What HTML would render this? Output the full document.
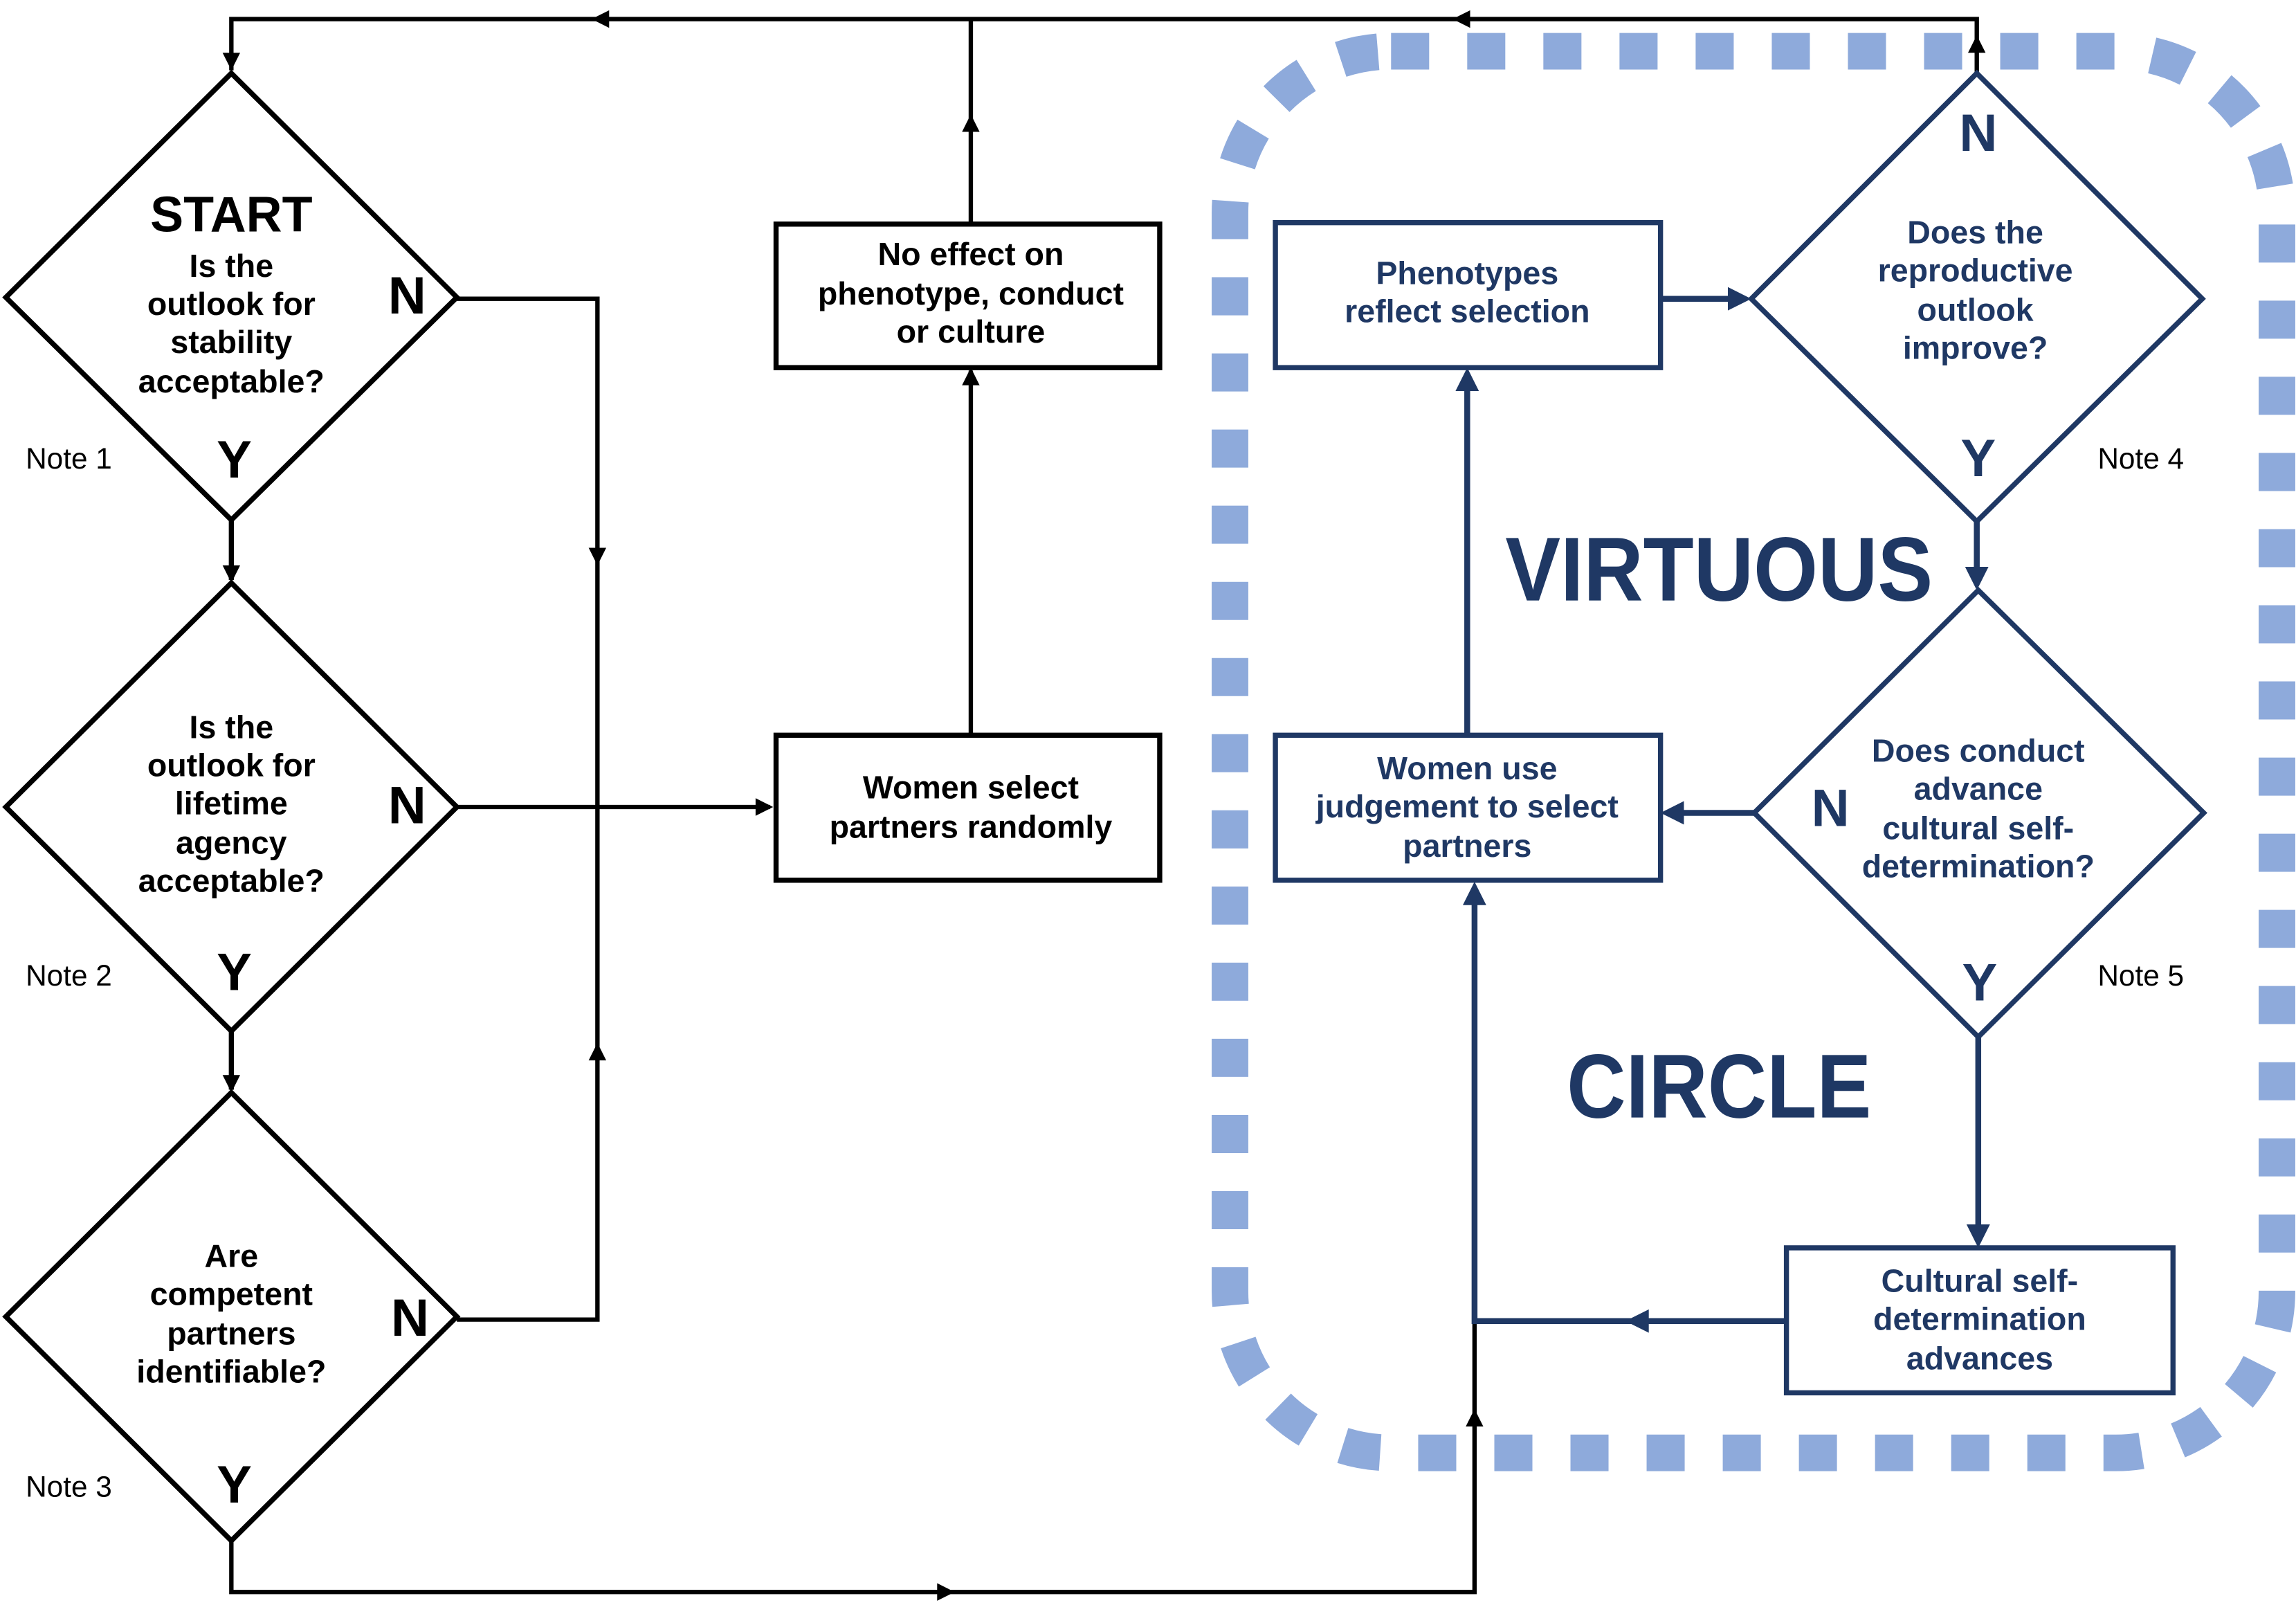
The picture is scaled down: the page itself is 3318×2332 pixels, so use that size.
<!DOCTYPE html>
<html><head><meta charset="utf-8"><style>
html,body{margin:0;padding:0;background:#fff}
svg{display:block}
text{font-family:"Liberation Sans",sans-serif;font-weight:bold}
</style></head><body>
<svg width="3318" height="2332" viewBox="0 0 1568 1102" xmlns="http://www.w3.org/2000/svg">
<rect x="840" y="35" width="715" height="957" rx="110" ry="110" fill="none" stroke="#8eaadb" stroke-width="25" stroke-dasharray="26 26"/>

<g stroke="#000" stroke-width="3" fill="none">
<polyline points="1350,50 1350,13 158,13 158,48"/>
<polyline points="312,204 408,204 408,901 312,901"/>
<line x1="312" y1="551" x2="526" y2="551"/>
<line x1="663" y1="502" x2="663" y2="253"/>
<line x1="663" y1="153" x2="663" y2="13"/>
<polyline points="158,1052 158,1087 1007,1087 1007,902"/>
</g>
<g fill="#000">
<path d="M158,48 l-6,-12 h12 z"/>
<path d="M404,13 l12,-6 v12 z"/>
<path d="M992,13 l12,-6 v12 z"/>
<path d="M1350,24 l-6,12 h12 z"/>
<path d="M408,386 l-6,-12 h12 z"/>
<path d="M408,712 l-6,12 h12 z"/>
<path d="M528,551 l-12,-6 v12 z"/>
<path d="M663,251 l-6,12 h12 z"/>
<path d="M663,78 l-6,12 h12 z"/>
<path d="M652,1087 l-12,-6 v12 z"/>
<path d="M1007,962 l-6,12 h12 z"/>
<path d="M158,398 l-6,-12 h12 z"/>
<path d="M158,746 l-6,-12 h12 z"/>
</g>

<g stroke="#000" stroke-width="3.5" fill="#fff">
<polygon points="158,50 312,203 158,355 4,203"/>
<polygon points="158,398 312,551 158,704 4,551"/>
<polygon points="158,746 312,899 158,1052 4,899"/>
<line x1="158" y1="355" x2="158" y2="396"/>
<line x1="158" y1="704" x2="158" y2="744"/>
<rect x="530" y="153" width="262" height="98"/>
<rect x="530" y="502" width="262" height="99"/>
</g>

<g fill="#000" text-anchor="middle" font-size="22">
<text x="158" y="158" font-size="34">START</text>
<text x="158" y="189">Is the</text>
<text x="158" y="215">outlook for</text>
<text x="158" y="241">stability</text>
<text x="158" y="268">acceptable?</text>
<text x="158" y="504">Is the</text>
<text x="158" y="530">outlook for</text>
<text x="158" y="556">lifetime</text>
<text x="158" y="583">agency</text>
<text x="158" y="609">acceptable?</text>
<text x="158" y="865">Are</text>
<text x="158" y="891">competent</text>
<text x="158" y="918">partners</text>
<text x="158" y="944">identifiable?</text>
<text x="663" y="181">No effect on</text>
<text x="663" y="208">phenotype, conduct</text>
<text x="663" y="234">or culture</text>
<text x="663" y="545">Women select</text>
<text x="663" y="572">partners randomly</text>
<g font-size="36">
<text x="278" y="214">N</text><text x="160" y="326">Y</text>
<text x="278" y="562">N</text><text x="160" y="676">Y</text>
<text x="280" y="912">N</text><text x="160" y="1026">Y</text>
</g>
<g font-size="20">
<text x="47" y="320" style="font-weight:normal">Note 1</text>
<text x="47" y="673" style="font-weight:normal">Note 2</text>
<text x="47" y="1022" style="font-weight:normal">Note 3</text>
<text x="1462" y="320" style="font-weight:normal">Note 4</text>
<text x="1462" y="673" style="font-weight:normal">Note 5</text>
</g>
</g>

<g stroke="#1f3864" stroke-width="4" fill="none">
<line x1="1134" y1="204" x2="1182" y2="204"/>
<line x1="1350" y1="356" x2="1350" y2="390"/>
<line x1="1198" y1="555" x2="1148" y2="555"/>
<line x1="1351" y1="708" x2="1351" y2="838"/>
<polyline points="1220,902 1007,902 1007,616"/>
<line x1="1002" y1="502" x2="1002" y2="266"/>
</g>
<g fill="#1f3864">
<path d="M1196,204 l-16,-8 v16 z"/>
<path d="M1350,403 l-8,-16 h16 z"/>
<path d="M1134,555 l16,-8 v16 z"/>
<path d="M1351,852 l-8,-16 h16 z"/>
<path d="M1110,902 l16,-8 v16 z"/>
<path d="M1007,602 l-8,16 h16 z"/>
<path d="M1002,251 l-8,16 h16 z"/>
</g>
<g stroke="#1f3864" stroke-width="3.5" fill="#fff">
<polygon points="1350,50 1504,204 1350,356 1196,204"/>
<polygon points="1351,403 1505,555 1351,708 1198,555"/>
<rect x="871" y="152" width="263" height="99"/>
<rect x="871" y="502" width="263" height="99"/>
<rect x="1220" y="852" width="264" height="99"/>
</g>
<g fill="#1f3864" text-anchor="middle" font-size="22">
<text x="1349" y="166">Does the</text>
<text x="1349" y="192">reproductive</text>
<text x="1349" y="219">outlook</text>
<text x="1349" y="245">improve?</text>
<text x="1351" y="520">Does conduct</text>
<text x="1351" y="546">advance</text>
<text x="1351" y="573">cultural self-</text>
<text x="1351" y="599">determination?</text>
<text x="1002" y="194">Phenotypes</text>
<text x="1002" y="220">reflect selection</text>
<text x="1002" y="532">Women use</text>
<text x="1002" y="558">judgement to select</text>
<text x="1002" y="585">partners</text>
<text x="1352" y="882">Cultural self-</text>
<text x="1352" y="908">determination</text>
<text x="1352" y="935">advances</text>
<g font-size="36">
<text x="1351" y="103">N</text><text x="1351" y="325">Y</text>
<text x="1250" y="564">N</text><text x="1352" y="683">Y</text>
</g>
<text x="1174" y="410" font-size="62" textLength="292" lengthAdjust="spacingAndGlyphs">VIRTUOUS</text>
<text x="1174" y="763" font-size="62" textLength="208" lengthAdjust="spacingAndGlyphs">CIRCLE</text>
</g>
</svg>
</body></html>
